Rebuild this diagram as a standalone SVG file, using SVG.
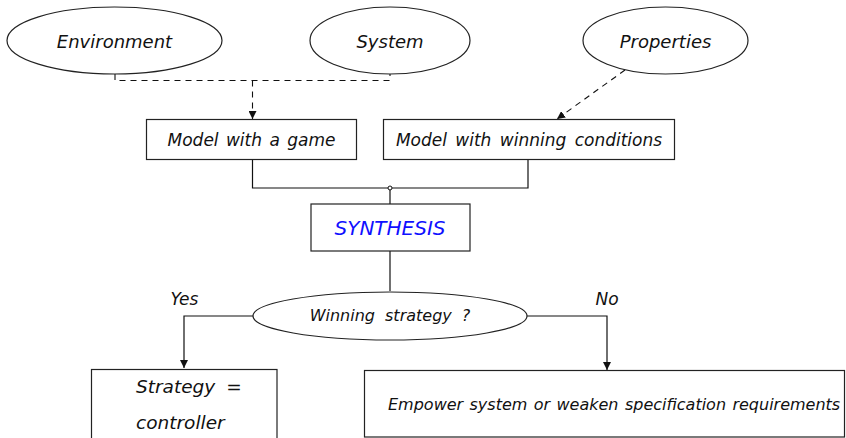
<svg xmlns="http://www.w3.org/2000/svg" width="846" height="438" viewBox="0 0 846 438">
<defs>
<marker id="arr" viewBox="0 0 10 10" refX="10" refY="5" markerWidth="8" markerHeight="8" markerUnits="userSpaceOnUse" orient="auto">
<path d="M0,0 L10,5 L0,10 z" fill="#111"/>
</marker>
<style>
.shape{fill:#fff;stroke:#222;stroke-width:1.2}
.ln{fill:none;stroke:#111;stroke-width:1.2}
.dash{fill:none;stroke:#111;stroke-width:1.1;stroke-dasharray:6,5}
text{font-family:"DejaVu Sans",sans-serif;font-style:oblique;fill:#111}
.c{text-anchor:middle}
</style>
</defs>
<g id="connectors">
<path class="dash" d="M115,74 V80.5 H390 V74"/>
<path class="dash" d="M252.5,80.5 V119" marker-end="url(#arr)"/>
<path class="dash" d="M625,70 L557,119" marker-end="url(#arr)"/>
<path class="ln" d="M252.5,159 V188 H528 V159"/>
<path class="ln" d="M390,188 V204"/>
<circle cx="390" cy="188" r="2" fill="#fff" stroke="#111" stroke-width="1"/>
<path class="ln" d="M390,251 V291"/>
<path class="ln" d="M253,316 H184 V368" marker-end="url(#arr)"/>
<path class="ln" d="M527,316 H607 V370" marker-end="url(#arr)"/>
<text class="c" x="184.5" y="305" font-size="17">Yes</text>
<text class="c" x="607" y="305" font-size="17">No</text>
</g>
<g id="environment">
<ellipse class="shape" cx="114.5" cy="40.5" rx="107.5" ry="33.5"/>
<text class="c" x="114.5" y="48" font-size="18">Environment</text>
</g>
<g id="system">
<ellipse class="shape" cx="390" cy="40.5" rx="80" ry="33.5"/>
<text class="c" x="390" y="48" font-size="18">System</text>
</g>
<g id="properties">
<ellipse class="shape" cx="665.5" cy="40.5" rx="82.5" ry="33.5"/>
<text class="c" x="665.5" y="48" font-size="18">Properties</text>
</g>
<g id="model-game">
<rect class="shape" x="146.5" y="119.5" width="210" height="40"/>
<text class="c" x="251.5" y="146" font-size="17" word-spacing="2">Model with a game</text>
</g>
<g id="model-winning">
<rect class="shape" x="383.5" y="119.5" width="291" height="40"/>
<text class="c" x="529" y="146" font-size="17" word-spacing="3">Model with winning conditions</text>
</g>
<g id="synthesis">
<rect class="shape" x="311" y="204" width="159" height="47"/>
<text class="c" x="390" y="235" font-size="20" style="fill:#1010ff">SYNTHESIS</text>
</g>
<g id="winning">
<ellipse class="shape" cx="390" cy="316" rx="137" ry="24"/>
<text class="c" x="390" y="321" font-size="16" word-spacing="5">Winning strategy ?</text>
</g>
<g id="strategy">
<rect class="shape" x="91.5" y="369.5" width="185.5" height="75"/>
<text x="136" y="393" font-size="18.5" word-spacing="5">Strategy =</text>
<text x="136" y="429" font-size="18.5">controller</text>
</g>
<g id="empower">
<rect class="shape" x="364.5" y="370.5" width="480" height="66.5"/>
<text x="388" y="410" font-size="16" word-spacing="1.3">Empower system or weaken specification requirements</text>
</g>
</svg>
